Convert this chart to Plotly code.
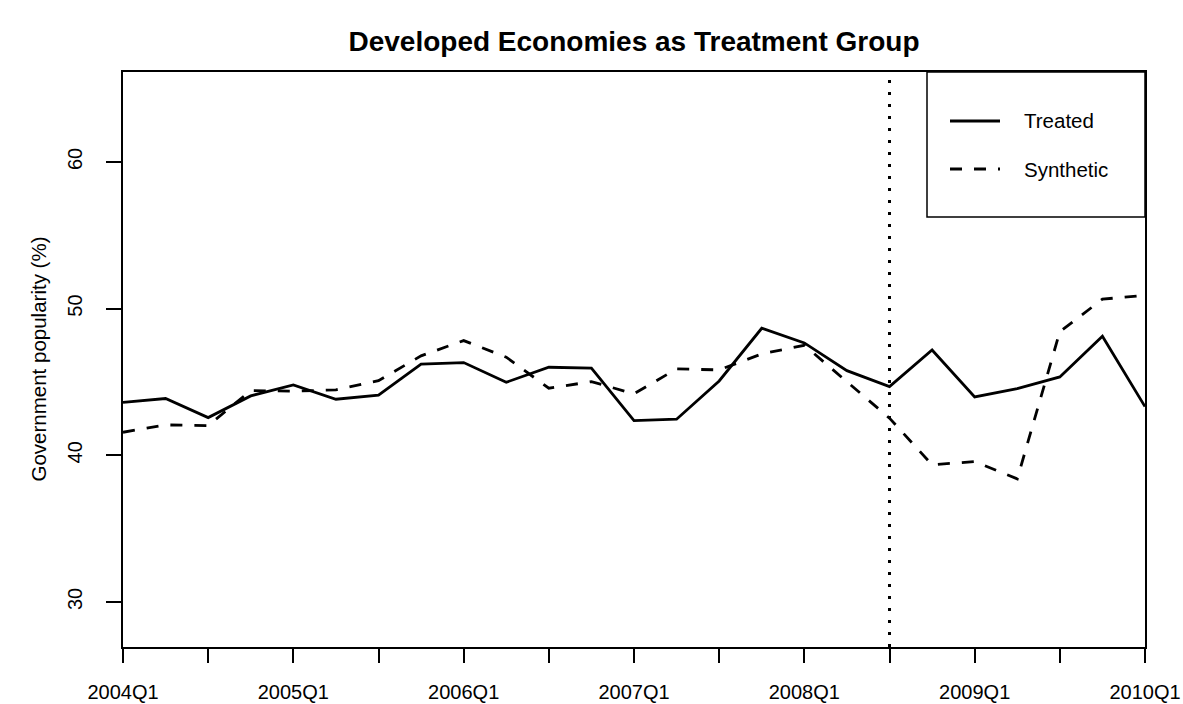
import plotly.graph_objects as go

# Quarterly periods on the x axis
quarters = [
    "2004Q1", "2004Q2", "2004Q3", "2004Q4",
    "2005Q1", "2005Q2", "2005Q3", "2005Q4",
    "2006Q1", "2006Q2", "2006Q3", "2006Q4",
    "2007Q1", "2007Q2", "2007Q3", "2007Q4",
    "2008Q1", "2008Q2", "2008Q3", "2008Q4",
    "2009Q1", "2009Q2", "2009Q3", "2009Q4",
    "2010Q1",
]

# Government popularity (%) for the treated group and its synthetic control
treated = [43.60, 43.87, 42.57, 44.05, 44.80, 43.82, 44.10, 46.21, 46.32, 44.98,
           46.00, 45.94, 42.36, 42.46, 45.07, 48.66, 47.66, 45.77, 44.68, 47.18,
           43.98, 44.55, 45.34, 48.12, 43.32]
synthetic = [41.57, 42.07, 42.02, 44.41, 44.37, 44.46, 45.09, 46.78, 47.82, 46.69,
             44.57, 45.02, 44.19, 45.89, 45.82, 46.91, 47.50, 45.00, 42.53, 39.35,
             39.57, 38.39, 48.43, 50.64, 50.91]

treatment_start = "2008Q3"
y_ticks = [30, 40, 50, 60]
legend_labels = ["Treated", "Synthetic"]

x_idx = list(range(len(quarters)))
tick_idx = x_idx[::2]
tick_text = [quarters[i] if quarters[i].endswith("Q1") else "" for i in tick_idx]
treat_idx = quarters.index(treatment_start)

FONT = "Liberation Sans, Arial, Helvetica, sans-serif"
W, H = 1183, 704
ML, MR, MT, MB = 123, 38, 72, 57
PW, PH = W - ML - MR, H - MT - MB


def px_x(p):
    return (p - ML) / PW


def px_y(p):
    return 1 - (p - MT) / PH


fig = go.Figure()
fig.add_trace(go.Scatter(x=x_idx, y=treated, mode="lines", name=legend_labels[0],
                         line=dict(color="black", width=2.8), showlegend=False))
fig.add_trace(go.Scatter(x=x_idx, y=synthetic, mode="lines", name=legend_labels[1],
                         line=dict(color="black", width=2.8, dash="12px,12px"),
                         showlegend=False))

shapes = [
    # treatment start marker
    dict(type="line", xref="x", yref="paper", x0=treat_idx, x1=treat_idx, y0=0, y1=1,
         line=dict(color="black", width=3, dash="3px,9px")),
    # legend frame
    dict(type="rect", xref="paper", yref="paper", x0=px_x(927), x1=1, y0=px_y(217), y1=1,
         line=dict(color="black", width=1.5), fillcolor="rgba(0,0,0,0)"),
    dict(type="line", xref="paper", yref="paper", x0=px_x(950), x1=px_x(1000),
         y0=px_y(121), y1=px_y(121), line=dict(color="black", width=2.8)),
    dict(type="line", xref="paper", yref="paper", x0=px_x(950), x1=px_x(1000),
         y0=px_y(169), y1=px_y(169), line=dict(color="black", width=2.8, dash="12px,12px")),
]

annotations = [
    dict(text=legend_labels[0], xref="paper", yref="paper", x=px_x(1022), y=px_y(121),
         xanchor="left", yanchor="middle", showarrow=False,
         font=dict(family=FONT, size=20.5, color="black")),
    dict(text=legend_labels[1], xref="paper", yref="paper", x=px_x(1022), y=px_y(169),
         xanchor="left", yanchor="middle", showarrow=False,
         font=dict(family=FONT, size=20.5, color="black")),
    dict(text="Government popularity (%)", xref="paper", yref="paper", x=0, y=0.5,
         xshift=-85, textangle=-90, xanchor="center", yanchor="middle", showarrow=False,
         font=dict(family=FONT, size=20.5, color="black")),
]

fig.update_layout(
    width=W, height=H,
    margin=dict(l=ML, r=MR, t=MT, b=MB, autoexpand=False),
    paper_bgcolor="white", plot_bgcolor="white",
    font=dict(family=FONT, color="black"),
    title=dict(text="<b>Developed Economies as Treatment Group</b>",
               x=px_x(634), xref="paper", xanchor="center",
               y=1 - 41 / H, yref="container", yanchor="middle",
               font=dict(family=FONT, size=28, color="black")),
    shapes=shapes,
    annotations=annotations,
    showlegend=False,
)

fig.update_xaxes(
    range=[0, len(quarters) - 1], tickmode="array", tickvals=tick_idx, ticktext=tick_text,
    ticks="outside", ticklen=14, tickwidth=1.5, tickcolor="black",
    showline=True, linecolor="black", linewidth=1.5, mirror=True,
    showgrid=False, zeroline=False, ticklabelstandoff=12, automargin=False,
    tickfont=dict(family=FONT, size=20, color="black"),
)
fig.update_yaxes(
    range=[26.93, 66.13], tickmode="array", tickvals=y_ticks,
    ticks="outside", ticklen=15, tickwidth=1.5, tickcolor="black",
    showline=True, linecolor="black", linewidth=1.5, mirror=True,
    showgrid=False, zeroline=False, tickangle=-90, ticklabelstandoff=16, automargin=False,
    tickfont=dict(family=FONT, size=20, color="black"),
)

fig.write_html("out.html")
